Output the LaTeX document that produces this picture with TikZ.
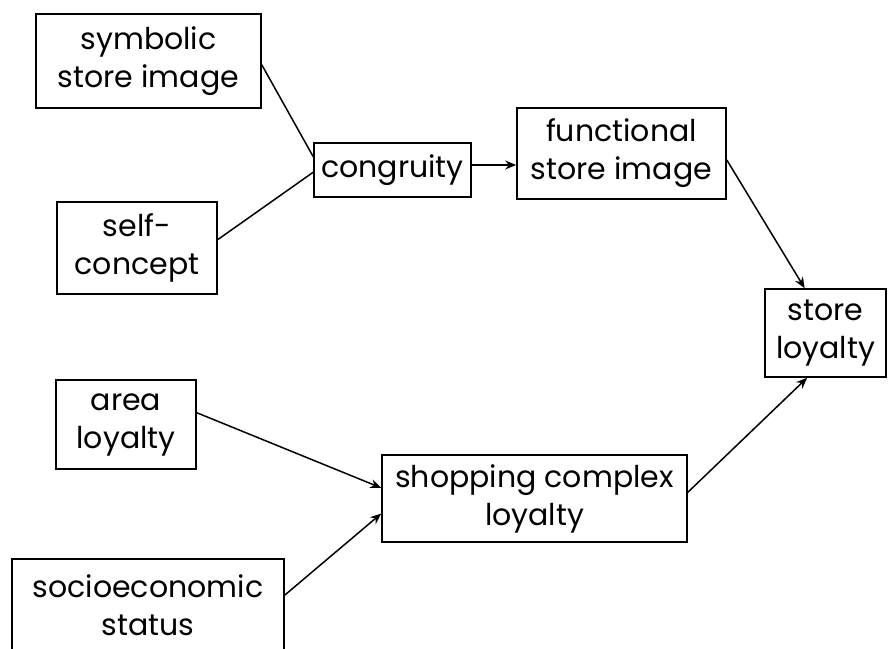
\documentclass[tikz,border=0pt]{standalone}
\usepackage{fontspec}
\setmainfont{Poppins}
\usetikzlibrary{arrows.meta,calc}
\begin{document}
\begin{tikzpicture}[x=1pt,y=-1pt,
  box/.style={draw, line width=1.6pt, inner sep=0pt, align=center,
    font=\fontsize{30}{38}\selectfont},
  link/.style={line width=1.5pt},
  arr/.style={link, -{Stealth[length=11pt,width=9pt]}}]
\clip (0,0) rectangle (888,648);
\fill[white] (0,0) rectangle (888,648);

% boxes
\node[box, minimum width=225pt, minimum height=94pt] (sym)   at (148.5,61)  {symbolic\\store image};
\node[box, minimum width=160pt, minimum height=92pt] (self)  at (137,248)   {self-\\concept};
\node[box, minimum width=157pt, minimum height=54pt] (cong)  at (392.5,170) {congruity};
\node[box, minimum width=209pt, minimum height=91pt] (func)  at (621.5,153.5) {functional\\store image};
\node[box, minimum width=121pt, minimum height=88pt] (store) at (825.5,333) {store\\loyalty};
\node[box, minimum width=140pt, minimum height=89pt] (area)  at (126,424.5) {area\\loyalty};
\node[box, minimum width=305pt, minimum height=87pt] (shop)  at (534.5,498.5) {shopping complex\\loyalty};
\node[box, minimum width=272pt, minimum height=93pt] (socio) at (148,605.5) {socioeconomic\\status};

% connectors
\draw[link] ($(sym.north east)!0.54!(sym.south east)$) -- ($(cong.north west)!0.26!(cong.south west)$);
\draw[link] ($(self.north east)!0.41!(self.south east)$) -- ($(cong.north west)!0.54!(cong.south west)$);
\coordinate (c1) at ($(cong.north east)!0.41!(cong.south east)$);
\draw[arr] (c1) -- (c1 -| func.west);
\draw[arr] ($(func.north east)!0.57!(func.south east)$) -- ($(store.north west)!0.33!(store.north east)$);
\draw[arr] ($(area.north east)!0.37!(area.south east)$) -- ($(shop.north west)!0.38!(shop.south west)$);
\draw[arr] ($(socio.north east)!0.39!(socio.south east)$) -- ($(shop.north west)!0.67!(shop.south west)$);
\draw[arr] ($(shop.north east)!0.43!(shop.south east)$) -- ($(store.south west)!0.35!(store.south east)$);
\end{tikzpicture}
\end{document}
